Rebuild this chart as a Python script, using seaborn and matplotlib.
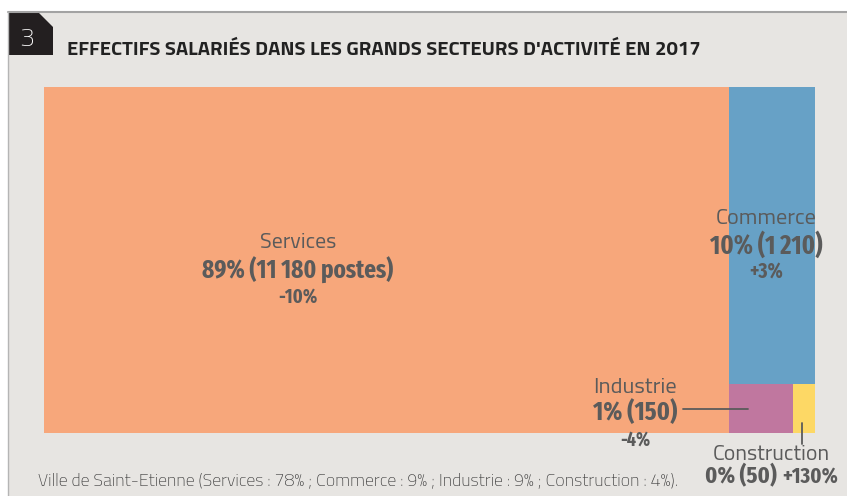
import matplotlib
matplotlib.use("Agg")
import matplotlib.pyplot as plt
from matplotlib.patches import Polygon
from matplotlib.lines import Line2D
import seaborn as sns

# donnees (postes salaries 2017)
sectors = ["Services", "Commerce", "Industrie", "Construction"]
jobs = [11180, 1210, 150, 50]
shares = ["89%", "10%", "1%", "0%"]
evolution = ["-10%", "+3%", "-4%", "+130%"]
colors = ["#f7a77b", "#67a1c6", "#c0779f", "#fdd865"]

TITLE = "EFFECTIFS SALARIÉS DANS LES GRANDS SECTEURS D'ACTIVITÉ EN 2017"
NOTE = "Ville de Saint-Etienne (Services : 78% ; Commerce : 9% ; Industrie : 9% ; Construction : 4%)."

W, H = 847, 496
TXT = "#5b5b5b"
PANEL = "#e7e5e2"
LIGHT = ["Titillium Web", "DejaVu Sans"]
NARROW = ["Fira Sans Extra Condensed", "Open Sans Condensed", "DejaVu Sans"]

sns.set_theme(style="white")
plt.rcParams["font.family"] = LIGHT


def fx(x):
    return x / W


def fy(y):
    return 1 - y / H


fig = plt.figure(figsize=(W / 100, H / 100), dpi=100)
fig.patch.set_facecolor("white")
renderer = fig.canvas.get_renderer()


def fit_text(x, y, s, width, ha="center", **kw):
    t = fig.text(fx(x), fy(y), s, fontsize=10, ha=ha, va="center", **kw)
    w = t.get_window_extent(renderer).width
    t.set_fontsize(10 * width / w)
    return t


# panneau de fond
bg = fig.add_axes([0, 0, 1, 1])
bg.set_xlim(0, W)
bg.set_ylim(H, 0)
bg.axis("off")
bg.add_patch(Polygon([[8, 12], [W, 12], [W, H], [8, H]], closed=True,
                     facecolor=PANEL, edgecolor="none"))
bg.plot([8, W], [12, 12], color="#a3a3a3", lw=1.5)
bg.plot([8, 8], [12, H], color="#b5b5b5", lw=1)
bg.add_patch(Polygon([[8, 12], [38, 12], [53, 27], [53, 55], [8, 55]], closed=True,
                     facecolor="#231f20", edgecolor="none"))
bg.text(27, 39, "3", color="white", fontsize=19, fontweight="light",
        ha="center", va="center")
fit_text(67, 50, TITLE, 631, ha="left", color="#222222", fontweight="bold")
fit_text(38, 481, NOTE, 640, ha="left", color="#3a3a3a", fontweight="light")

# treemap
ax = fig.add_axes([fx(44), fy(433), 771 / W, 346 / H])
total = sum(jobs)
w_serv = jobs[0] / total
rest = jobs[1] + jobs[2] + jobs[3]
h_comm = jobs[1] / rest
w_ind = jobs[2] / (jobs[2] + jobs[3])
right = 1 - w_serv

lefts = [0, w_serv, w_serv, w_serv + right * w_ind]
widths = [w_serv, right, right * w_ind, right * (1 - w_ind)]
bottoms = [0, 1 - h_comm, 0, 0]
heights = [1, h_comm, 1 - h_comm, 1 - h_comm]
ax.bar(lefts, heights, width=widths, bottom=bottoms, align="edge",
       color=colors, edgecolor="none", linewidth=0)
ax.set_xlim(0, 1)
ax.set_ylim(0, 1)
ax.axis("off")

name_kw = dict(color=TXT, fontweight="normal")
num_kw = dict(color=TXT, fontweight="bold", family=NARROW)

fit_text(298, 243, sectors[0], 77, **name_kw)
fit_text(298, 270, shares[0] + " (11 180 postes)", 191, **num_kw)
fit_text(298, 297, evolution[0], 39, **num_kw)

fit_text(766, 219, sectors[1], 102, **name_kw)
fit_text(766, 245, shares[1] + " (1 210)", 112, **num_kw)
fit_text(766, 272, evolution[1], 34, **num_kw)

fit_text(635, 388, sectors[2], 84, **name_kw)
fit_text(635, 412, shares[2] + " (150)", 84, **num_kw)
fit_text(635, 440, evolution[2], 30, **num_kw)

fit_text(771, 455, sectors[3], 118, **name_kw)
fit_text(741, 476, shares[3] + " (50)", 72, **num_kw)
fit_text(810, 477, evolution[3], 56, **num_kw)

fig.add_artist(Line2D([fx(683), fx(748)], [fy(409), fy(409)], color=TXT, lw=1.3))
fig.add_artist(Line2D([fx(802), fx(802)], [fy(423), fy(444)], color=TXT, lw=1.3))

fig.savefig("out.png", dpi=100)
